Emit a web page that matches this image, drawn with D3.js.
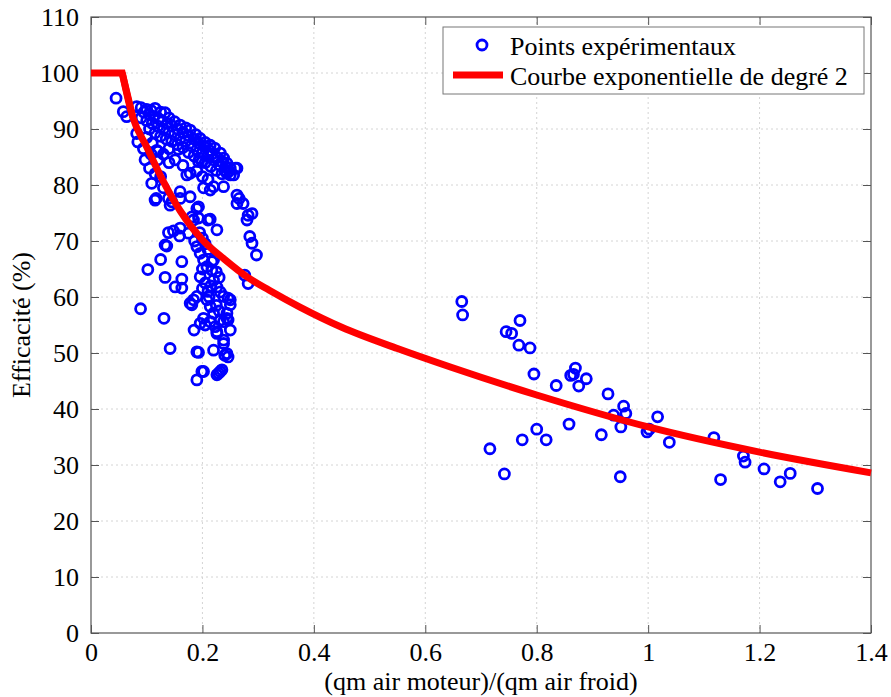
<!DOCTYPE html>
<html><head><meta charset="utf-8">
<script src="https://cdn.jsdelivr.net/npm/d3@7"></script>
<style>
html,body{margin:0;padding:0;background:#fff;}
svg text{font-family:"Liberation Serif","Times New Roman",serif;fill:#000;}
</style></head>
<body><svg id="chart" width="891" height="697"></svg>
<script>
// ---- data ----
const xTickValues = [0, 0.2, 0.4, 0.6, 0.8, 1, 1.2, 1.4];
const xTickLabels = ["0", "0.2", "0.4", "0.6", "0.8", "1", "1.2", "1.4"];
const yTickValues = [0, 10, 20, 30, 40, 50, 60, 70, 80, 90, 100, 110];
const xLabel = "(qm air moteur)/(qm air froid)";
const yLabel = "Efficacité (%)";
const legendLabels = ["Points expérimentaux", "Courbe exponentielle de degré 2"];

// fitted curve
const curveX = [0, 0.056, 0.075, 0.10, 0.13, 0.16, 0.20, 0.24, 0.28, 0.32, 0.375, 0.45, 0.55, 0.645, 0.80, 1.00, 1.20, 1.40];
const curveY = [100, 100, 92.1, 86.8, 80.6, 75.4, 70.2, 66.7, 63.6, 61.2, 58.2, 54.6, 50.8, 47.5, 42.5, 36.8, 32.3, 28.6];

// experimental points (left cluster)
const pointsLow = [
 [0.045,95.5],[0.058,93.1],[0.064,92.2],
 [0.082,94.0],[0.09,93.8],[0.10,93.5],[0.108,93.3],[0.115,93.7],[0.125,93.0],[0.133,92.9],[0.14,92.0],[0.15,91.3],[0.16,90.7],[0.17,90.2],[0.178,89.8],[0.188,89.0],[0.196,88.3],[0.205,87.6],[0.214,87.1],[0.222,86.6],[0.232,85.7],[0.238,84.8],[0.244,83.9],[0.25,83.0],[0.259,83.0],[0.262,83.0],
 [0.095,93.0],[0.105,92.6],[0.113,92.2],[0.122,91.8],[0.128,91.4],[0.137,91.0],[0.145,90.6],[0.155,90.0],[0.165,89.4],[0.175,88.8],[0.185,88.2],[0.193,87.5],[0.203,86.9],[0.212,86.2],[0.218,85.6],[0.227,84.9],[0.235,84.2],[0.242,83.3],[0.248,82.5],
 [0.09,92.0],[0.10,91.5],[0.11,91.0],[0.12,90.5],[0.13,90.0],[0.14,89.5],[0.15,89.0],[0.16,88.3],[0.17,87.8],[0.18,87.0],[0.19,86.3],[0.20,85.8],[0.21,85.2],[0.22,84.5],[0.23,83.6],[0.24,82.6],[0.25,81.8],[0.256,81.8],[0.244,82.1],
 [0.105,90.0],[0.115,89.3],[0.125,88.7],[0.135,88.2],[0.145,87.8],[0.155,87.2],[0.165,86.7],[0.185,85.2],[0.195,84.8],[0.205,84.0],[0.215,83.3],[0.225,82.6],[0.235,82.0],
 [0.2,81.5],[0.21,81.0],[0.19,82.5],[0.165,83.5],[0.14,84.0],[0.118,86.2],[0.108,85.5],
 [0.082,89.2],[0.084,87.7],[0.094,86.5],[0.097,84.5],[0.109,80.3],[0.117,77.6],[0.10,88.5],[0.11,87.5],[0.12,86.0],[0.13,85.5],[0.14,86.5],[0.157,86.4],[0.175,85.8],[0.151,84.5],[0.172,81.8],[0.193,84.2],[0.199,84.2],[0.178,82.1],[0.202,79.5],[0.22,79.7],[0.238,79.7],[0.105,83.0],[0.115,82.0],[0.125,81.5],[0.13,79.5],[0.12,84.5],
 [0.139,77.6],[0.145,77.0],[0.16,78.8],[0.16,77.6],[0.178,77.9],[0.193,76.1],[0.181,74.3],[0.214,73.9],[0.226,72.0],[0.142,76.4],[0.115,77.3],[0.19,75.8],[0.193,74.1],[0.21,73.75],[0.214,79.1],
 [0.262,78.2],[0.262,76.7],[0.273,76.7],[0.266,77.6],[0.282,74.6],[0.289,74.9],[0.28,73.75],[0.285,70.8],[0.289,69.6],[0.297,67.5],[0.276,63.9],[0.282,62.4],
 [0.139,71.5],[0.148,71.8],[0.16,72.3],[0.159,70.9],[0.136,69.1],[0.125,66.7],[0.102,64.9],[0.133,63.5],[0.163,66.3],[0.163,63.2],[0.151,61.8],[0.163,61.6],[0.175,71.4],[0.184,73.75],[0.133,69.3],
 [0.089,57.9],[0.131,56.2],[0.142,50.8],[0.178,58.9],
 [0.19,69.0],[0.196,67.8],[0.202,66.6],[0.208,65.4],[0.217,66.3],[0.22,66.6],[0.217,64.8],[0.196,63.6],[0.22,63.0],[0.226,61.8],[0.232,60.9],[0.238,60.1],[0.246,59.8],[0.25,58.6],[0.244,57.1],[0.246,55.9],[0.25,54.1],[0.232,55.9],[0.22,57.1],[0.214,58.3],[0.208,59.5],[0.223,54.7],[0.226,53.5],[0.238,51.7],[0.22,50.5],[0.244,49.9],[0.246,49.3],[0.232,46.7],[0.226,46.1],[0.235,47.0],[0.202,56.2],[0.205,55.0],[0.196,55.3],[0.185,54.1],[0.181,58.6],[0.19,60.1],[0.184,59.5],[0.193,50.1],[0.19,45.2],[0.202,46.7],[0.25,59.5],[0.226,53.8],[0.238,52.3],[0.214,55.6],[0.238,55.6],[0.244,56.2],[0.24,49.6],[0.199,46.7],[0.229,46.4],[0.19,50.2],
 [0.2,70.5],[0.205,69.5],[0.21,68.5],[0.2,65.0],[0.205,62.5],[0.21,61.0],[0.2,61.5],[0.215,62.0],[0.212,60.0],[0.225,58.5],[0.23,57.5],[0.225,64.5],[0.23,63.5],[0.195,71.5],[0.186,70.0]
];
// experimental points (right cluster)
const pointsHigh = [
 [0.6655,59.2],[0.667,56.8],[0.770,55.8],[0.745,53.8],[0.755,53.5],[0.768,51.4],[0.788,50.9],[0.795,46.25],[0.835,44.2],[0.861,46.0],
 [0.8695,47.3],[0.866,46.2],[0.889,45.4],[0.8755,44.1],[0.928,42.7],[0.956,40.5],[0.938,38.9],[0.960,39.2],[0.951,36.8],[1.017,38.6],
 [0.998,35.9],[1.002,36.4],[1.038,34.05],[0.858,37.3],[0.916,35.4],[0.800,36.4],[0.817,34.5],[0.774,34.5],[0.716,32.9],[0.742,28.4],
 [0.950,27.9],[1.118,34.9],[1.171,31.6],[1.174,30.5],[1.130,27.4],[1.208,29.3],[1.255,28.5],[1.237,27.0],[1.304,25.8]
];

// ---- drawing ----
const svg = d3.select("#chart");
const L = 91, R = 871, T = 17, B = 633;
const x = d3.scaleLinear().domain([0, 1.4]).range([L, R]);
const y = d3.scaleLinear().domain([0, 110]).range([B, T]);
const FONT = 26;

// grid
const grid = svg.append("g");
grid.selectAll("line.gx").data(xTickValues.slice(1, -1)).join("line")
  .attr("x1", d => x(d)).attr("x2", d => x(d)).attr("y1", T).attr("y2", B)
  .attr("stroke", "#d4d4d4").attr("stroke-width", 1).attr("stroke-dasharray", "2,3");
grid.selectAll("line.gy").data(yTickValues.slice(1, -1)).join("line")
  .attr("x1", L).attr("x2", R).attr("y1", d => y(d)).attr("y2", d => y(d))
  .attr("stroke", "#d4d4d4").attr("stroke-width", 1).attr("stroke-dasharray", "2,3");

// axes
const fmtX = d => xTickLabels[xTickValues.indexOf(d)];
const axB = svg.append("g").attr("transform", `translate(0,${B})`)
  .call(d3.axisBottom(x).tickValues(xTickValues).tickFormat(fmtX).tickSizeInner(-8).tickSizeOuter(0).tickPadding(12));
const axT = svg.append("g").attr("transform", `translate(0,${T})`)
  .call(d3.axisTop(x).tickValues(xTickValues).tickFormat("").tickSizeInner(-8).tickSizeOuter(0));
const axL = svg.append("g").attr("transform", `translate(${L},0)`)
  .call(d3.axisLeft(y).tickValues(yTickValues).tickFormat(d3.format("d")).tickSizeInner(-8).tickSizeOuter(0).tickPadding(12));
const axR = svg.append("g").attr("transform", `translate(${R},0)`)
  .call(d3.axisRight(y).tickValues(yTickValues).tickFormat("").tickSizeInner(-8).tickSizeOuter(0));
[axB, axT, axL, axR].forEach(a => {
  a.select(".domain").remove();
  a.selectAll(".tick line").attr("stroke", "#555").attr("stroke-width", 1);
  a.selectAll(".tick text").attr("font-size", FONT).attr("font-family", "Liberation Serif").attr("fill", "#000");
});
axB.selectAll(".tick text").attr("dy", "0.71em").attr("y", 10);

// frame
svg.append("rect").attr("x", L).attr("y", T).attr("width", R - L).attr("height", B - T)
  .attr("fill", "none").attr("stroke", "#555").attr("stroke-width", 1.2);

// points
const allPoints = pointsLow.concat(pointsHigh);
svg.append("g").selectAll("circle").data(allPoints).join("circle")
  .attr("cx", d => x(d[0])).attr("cy", d => y(d[1])).attr("r", 5)
  .attr("fill", "none").attr("stroke", "#0000ff").attr("stroke-width", 2.8);

// curve
const curvePts = curveX.map((v, i) => [v, curveY[i]]);
const flatLine = d3.line().x(d => x(d[0])).y(d => y(d[1]));
const smoothLine = d3.line().x(d => x(d[0])).y(d => y(d[1])).curve(d3.curveMonotoneX);
svg.append("path").attr("d", flatLine(curvePts.slice(0, 3)))
  .attr("fill", "none").attr("stroke", "#ff0000").attr("stroke-width", 7).attr("stroke-linejoin", "miter");
svg.append("path").attr("d", smoothLine(curvePts.slice(1)))
  .attr("fill", "none").attr("stroke", "#ff0000").attr("stroke-width", 7).attr("stroke-linejoin", "round");

// axis labels
svg.append("text").attr("x", (L + R) / 2).attr("y", 690).attr("text-anchor", "middle")
  .attr("font-size", FONT).text(xLabel);
svg.append("text").attr("transform", `translate(30,${(T + B) / 2}) rotate(-90)`).attr("text-anchor", "middle")
  .attr("font-size", FONT).text(yLabel);

// legend
const lg = svg.append("g");
lg.append("rect").attr("x", 443).attr("y", 27).attr("width", 421).attr("height", 67)
  .attr("fill", "#fff").attr("stroke", "#777").attr("stroke-width", 1);
lg.append("circle").attr("cx", 482).attr("cy", 45).attr("r", 5)
  .attr("fill", "none").attr("stroke", "#0000ff").attr("stroke-width", 2.8);
lg.append("line").attr("x1", 453).attr("x2", 503).attr("y1", 75).attr("y2", 75)
  .attr("stroke", "#ff0000").attr("stroke-width", 7);
lg.append("text").attr("x", 510).attr("y", 55).attr("font-size", FONT).text(legendLabels[0]);
lg.append("text").attr("x", 510).attr("y", 85).attr("font-size", FONT).text(legendLabels[1]);
</script></body></html>
